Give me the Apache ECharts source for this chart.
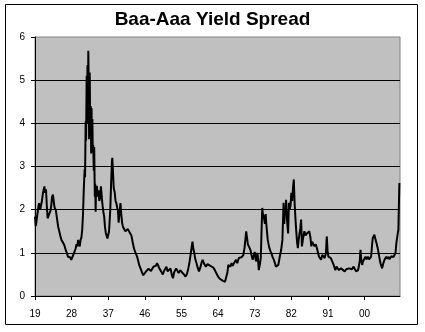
<!DOCTYPE html>
<html>
<head>
<meta charset="utf-8">
<script src="https://cdn.jsdelivr.net/npm/echarts@6/dist/echarts.min.js"></script>
<style>
html,body{margin:0;padding:0;background:#fff;}
#c{width:425px;height:332px;}
</style>
</head>
<body>
<div id="c"></div>
<script>
const titleText = "Baa-Aaa Yield Spread";
const startYear = 1919;
const tickYears = [1919, 1928, 1937, 1946, 1955, 1964, 1973, 1982, 1991, 2000];
const yTicks = [0, 1, 2, 3, 4, 5, 6];

// years since Jan 1919
const yearOffset = [
0.0,0.2,0.35,0.6,0.8,1.0,1.15,1.3,1.5,1.7,1.9,2.1,2.3,2.5,2.7,2.9,3.1,3.25,3.5,3.8,
4.0,4.2,4.4,4.6,4.8,5.1,5.4,5.7,5.9,6.2,6.5,6.8,7.1,7.3,7.6,7.9,8.1,8.4,8.6,8.9,
9.1,9.4,9.75,10.0,10.2,10.4,10.6,10.8,11.0,11.2,11.4,11.6,11.8,12.0,12.2,12.3,12.45,12.55,12.7,12.8,
12.9,13.0,13.1,13.2,13.3,13.45,13.55,13.7,13.8,13.9,14.0,14.1,14.2,14.3,14.45,14.55,14.7,14.8,14.9,15.0,
15.2,15.4,15.6,15.8,16.0,16.2,16.4,16.6,16.8,17.0,17.2,17.4,17.6,17.8,17.95,18.2,18.5,18.7,18.9,19.0,
19.15,19.35,19.6,19.8,20.0,20.2,20.4,20.55,20.75,21.0,21.2,21.4,21.6,21.9,22.2,22.5,22.8,23.1,23.4,23.7,
24.0,24.3,24.7,25.1,25.4,25.6,26.0,26.3,26.6,26.8,27.0,27.3,27.6,27.9,28.2,28.5,28.8,29.1,29.4,29.7,
30.0,30.3,30.6,31.0,31.4,31.7,32.0,32.3,32.6,32.9,33.3,33.6,33.9,34.2,34.7,35.0,35.3,35.7,36.1,36.6,
37.0,37.3,37.6,38.0,38.3,38.7,38.9,39.1,39.4,39.7,40.0,40.3,40.6,40.9,41.2,41.5,41.8,42.0,42.4,42.8,
43.1,43.4,43.8,44.2,44.6,45.0,45.4,45.8,46.2,46.7,47.0,47.3,47.5,47.8,48.0,48.3,48.6,48.9,49.1,49.4,
49.7,50.1,50.4,50.8,51.2,51.5,51.9,52.1,52.3,52.7,53.0,53.2,53.5,53.8,54.0,54.3,54.5,54.7,55.0,55.3,
55.5,55.7,55.85,56.0,56.2,56.5,56.7,56.8,57.0,57.2,57.5,57.8,58.1,58.4,58.7,58.9,59.2,59.5,59.8,60.1,
60.5,60.8,61.0,61.1,61.25,61.4,61.6,61.7,61.9,62.2,62.4,62.6,62.8,63.0,63.2,63.4,63.6,63.8,64.0,64.2,
64.4,64.6,64.8,65.0,65.2,65.4,65.6,65.9,66.2,66.5,66.8,67.1,67.4,67.7,67.9,68.1,68.4,68.7,69.0,69.3,
69.5,69.8,70.1,70.3,70.6,70.9,71.2,71.5,71.7,71.9,72.1,72.4,72.7,73.0,73.4,73.6,73.8,74.1,74.4,74.7,
75.0,75.2,75.6,76.1,76.5,76.9,77.2,77.5,77.9,78.3,78.6,78.9,79.2,79.4,79.7,79.8,80.0,80.2,80.4,80.6,
80.9,81.2,81.5,81.8,82.1,82.4,82.6,82.85,83.0,83.2,83.4,83.7,84.0,84.3,84.6,84.9,85.1,85.3,85.6,85.9,
86.1,86.3,86.6,86.9,87.1,87.3,87.6,87.9,88.1,88.4,88.6,88.8,89.0,89.1,89.3,89.45,89.55
];

const spread = [
1.84,1.62,1.58,1.9,2.05,2.15,2.19,2.0,1.97,2.2,2.35,2.45,2.54,2.39,2.47,2.1,1.8,1.77,1.9,1.97,
2.1,2.3,2.35,2.2,2.05,2.0,1.8,1.6,1.53,1.4,1.3,1.25,1.2,1.15,1.05,0.98,0.91,0.88,0.9,0.84,
0.86,0.95,0.99,1.1,1.2,1.15,1.3,1.2,1.15,1.3,1.35,1.53,1.9,2.5,2.93,2.75,4.05,3.6,5.1,4.4,
5.35,4.0,5.68,4.9,3.63,5.18,4.0,4.4,3.3,4.35,3.4,4.1,3.33,3.5,2.9,3.45,2.3,2.6,1.95,2.5,
2.55,2.3,2.45,2.2,2.3,2.54,2.3,2.1,1.95,1.84,1.6,1.46,1.5,1.33,1.3,1.5,2.0,2.6,3.1,3.2,
2.9,2.5,2.39,2.2,2.15,2.05,1.96,1.7,1.9,2.15,1.9,1.7,1.61,1.55,1.5,1.48,1.55,1.5,1.45,1.4,
1.25,1.11,1.0,0.91,0.8,0.72,0.62,0.55,0.48,0.45,0.5,0.57,0.55,0.63,0.64,0.58,0.62,0.68,0.72,0.7,
0.76,0.7,0.63,0.57,0.5,0.58,0.6,0.68,0.57,0.6,0.64,0.5,0.41,0.55,0.64,0.6,0.53,0.6,0.55,0.5,
0.45,0.5,0.6,0.8,1.0,1.26,1.1,1.02,0.85,0.76,0.65,0.57,0.65,0.76,0.84,0.76,0.74,0.68,0.74,0.72,
0.7,0.72,0.66,0.6,0.52,0.45,0.4,0.37,0.35,0.33,0.36,0.55,0.72,0.76,0.68,0.76,0.7,0.76,0.72,0.84,
0.76,0.88,0.84,0.9,0.95,1.12,1.5,1.35,1.2,1.12,1.05,0.95,0.84,0.95,1.02,0.8,0.76,1.0,0.6,0.75,
0.9,1.6,2.04,1.9,1.85,1.67,1.9,1.72,1.5,1.3,1.15,1.05,0.99,0.9,0.84,0.78,0.68,0.7,0.72,0.88,
1.07,1.3,1.9,2.16,1.67,2.0,1.9,2.23,1.8,1.45,2.16,2.0,2.1,2.39,2.2,2.5,2.7,2.16,1.8,1.5,
1.25,1.11,1.3,1.45,1.56,1.77,1.15,1.35,1.5,1.4,1.45,1.42,1.5,1.35,1.15,1.26,1.2,1.15,1.2,1.1,
1.11,0.91,0.88,0.84,0.95,0.91,0.88,1.0,1.38,1.05,0.91,0.95,0.88,0.85,0.72,0.76,0.6,0.68,0.72,0.6,
0.62,0.64,0.6,0.57,0.62,0.66,0.64,0.68,0.62,0.68,0.72,0.57,0.6,0.6,0.75,0.8,1.07,0.82,0.72,0.8,
0.84,0.91,0.85,0.91,0.85,0.88,0.91,1.2,1.34,1.3,1.42,1.3,1.2,1.07,0.91,0.76,0.72,0.64,0.76,0.84,
0.8,0.91,0.86,0.91,0.85,0.88,0.92,0.95,0.9,0.91,1.0,1.22,1.35,1.42,1.53,2.2,2.62
];

const seriesData = yearOffset.map((t, i) => [startYear + t, spread[i]]);
const font = '"Liberation Sans", Arial, sans-serif';

const chart = echarts.init(document.getElementById('c'), null, {renderer: 'canvas'});
chart.setOption({
  animation: false,
  backgroundColor: '#ffffff',
  title: {
    text: titleText,
    left: 'center',
    top: 10,
    padding: 0,
    textStyle: {fontFamily: font, fontSize: 19, fontWeight: 'bold', color: '#000'}
  },
  graphic: [{
    type: 'rect',
    shape: {x: 5.5, y: 4.5, width: 412, height: 320},
    style: {fill: 'none', stroke: '#000', lineWidth: 1},
    silent: true,
    z: 100
  }],
  grid: {
    left: 35, right: 25, top: 37, bottom: 36,
    show: true,
    backgroundColor: '#c0c0c0',
    borderColor: '#808080',
    borderWidth: 1
  },
  xAxis: {
    type: 'value',
    min: 1919,
    max: 2008.7,
    axisLine: {show: true, onZero: false, lineStyle: {color: '#000', width: 1}},
    axisTick: {show: true, length: 4, inside: false, customValues: tickYears, lineStyle: {color: '#000'}},
    axisLabel: {
      show: true,
      customValues: tickYears,
      margin: 13,
      fontFamily: font,
      fontSize: 10,
      color: '#000',
      formatter: v => String(Math.round(v) % 100).padStart(2, '0')
    },
    splitLine: {show: false}
  },
  yAxis: {
    type: 'value',
    min: 0,
    max: 6,
    interval: 1,
    axisLine: {show: true, lineStyle: {color: '#000', width: 1}},
    axisTick: {show: true, length: 4, inside: false, lineStyle: {color: '#000'}},
    axisLabel: {margin: 10, fontFamily: font, fontSize: 10, color: '#000'},
    splitLine: {show: true, showMaxLine: false, lineStyle: {color: '#000', width: 1}}
  },
  series: [{
    type: 'line',
    data: seriesData,
    showSymbol: false,
    symbol: 'none',
    lineStyle: {color: '#000', width: 2},
    itemStyle: {color: '#000'},
    clip: true
  }]
});
</script>
</body>
</html>
